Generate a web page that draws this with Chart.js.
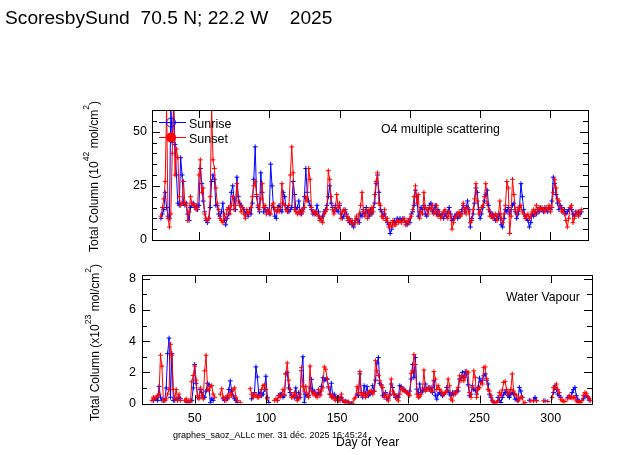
<!DOCTYPE html>
<html>
<head>
<meta charset="utf-8">
<title>ScoresbySund 2025</title>
<script src="https://cdn.jsdelivr.net/npm/chart.js@4.4.1/dist/chart.umd.min.js"></script>
<style>
  body { margin: 0; background: #fff; }
  #wrap { position: relative; width: 623px; height: 455px; }
  #wrap canvas { position: absolute; left: 0; top: 0; }
</style>
</head>
<body>
<div id="wrap">
  <canvas id="o4" width="623" height="455"></canvas>
  <canvas id="wv" width="623" height="455"></canvas>
</div>
<script>
// O4 multiple scattering, one value per day starting at day 23 (10^42 mol/cm2)
const o4FirstDay = 23;
const o4Sunrise = [
  10, 12, 14, 22, 15, 11, 10, 62, 45, 62,
  44, 30, 17, 16, 38, 30, 17, 16, 17, 12,
  9, 15, 16, 17, 15, 16, 14, 16, 33, 26,
  18, 13, 9, 8, 10, 15, 27, 30, 28, 16,
  16, 12, 11, 13, 17, 9, 7, 10, 12, 14,
  22, 25, 19, 14, 29, 20, 17, 16, 15, 14,
  12, 13, 11, 14, 12, 17, 28, 43, 20, 15,
  13, 31, 22, 13, 15, 13, 14, 12, 35, 25,
  15, 11, 10, 15, 16, 14, 13, 22, 20, 14,
  15, 13, 14, 15, 27, 21, 14, 15, 18, 13,
  12, 14, 20, 33, 22, 18, 16, 14, 12, 13,
  12, 16, 13, 10, 9, 11, 13, 14, 16, 20,
  25, 17, 15, 13, 16, 14, 13, 16, 12, 10,
  11, 14, 12, 10, 8, 9, 7, 6, 8, 10,
  9, 8, 12, 11, 14, 12, 15, 13, 11, 14,
  12, 15, 17, 26, 30, 22, 14, 13, 11, 12,
  10, 8, 7, 3, 5, 8, 9, 8, 10, 9,
  10, 9, 10, 9, 8, 7, 9, 8, 12, 13,
  16, 23, 20, 11, 13, 15, 14, 16, 12, 11,
  14, 16, 17, 13, 14, 16, 12, 14, 12, 11,
  12, 10, 12, 11, 13, 15, 12, 9, 10, 11,
  12, 10, 11, 12, 14, 16, 13, 15, 18, 14,
  6, 10, 12, 17, 24, 22, 14, 10, 12, 15,
  18, 21, 23, 16, 13, 11, 12, 10, 9, 11,
  10, 12, 7, 6, 10, 14, 13, 15, 12, 14,
  16, 17, 13, 10, 12, 15, 26, 20, 14, 11,
  10, 9, 6, 8, 12, 11, 13, 12, 14, 13,
  15, 14, 13, 15, 14, 13, 15, 14, 18, 29,
  26, 21, 17, 14, 16, 15, 13, 14, 12, 13,
  14, 15, 14, 12, 11, 13, 12, 13, 12, 13
];
const o4Sunset = [
  11, 15, 19, 27, 62, 10, 6, 12, 40, 62,
  30, 42, 38, 20, 16, 17, 27, 17, 16, 9,
  13, 20, 17, 16, 16, 14, 15, 30, 37, 22,
  24, 12, 10, 9, 10, 20, 62, 37, 33, 24,
  17, 14, 10, 9, 8, 12, 10, 14, 15, 12,
  16, 20, 14, 16, 26, 18, 16, 13, 15, 12,
  10, 14, 12, 13, 15, 20, 25, 27, 21, 16,
  14, 19, 26, 15, 16, 12, 14, 13, 12, 16,
  17, 14, 13, 15, 13, 15, 26, 17, 16, 14,
  13, 16, 30, 43, 31, 14, 13, 12, 13, 12,
  14, 13, 15, 20, 18, 33, 28, 15, 13, 12,
  13, 12, 11, 9, 10, 8, 12, 13, 14, 32,
  28, 20, 14, 12, 14, 21, 15, 17, 10, 13,
  14, 13, 11, 9, 10, 8, 9, 7, 9, 11,
  8, 12, 16, 22, 13, 11, 14, 10, 14, 12,
  15, 13, 21, 27, 31, 17, 16, 11, 10, 14,
  9, 10, 6, 8, 6, 9, 7, 7, 9, 8,
  9, 8, 9, 10, 7, 9, 8, 10, 11, 14,
  20, 25, 17, 21, 10, 13, 12, 22, 15, 14,
  12, 15, 14, 16, 12, 13, 16, 11, 13, 10,
  11, 13, 14, 12, 10, 13, 11, 5, 8, 10,
  11, 12, 13, 11, 12, 17, 14, 12, 15, 13,
  8, 9, 14, 19, 26, 18, 12, 13, 15, 16,
  20, 26, 17, 14, 11, 12, 10, 11, 12, 9,
  12, 18, 10, 8, 12, 16, 27, 24, 3, 11,
  28, 21, 14, 12, 15, 14, 16, 13, 12, 10,
  11, 12, 10, 11, 13, 14, 12, 16, 13, 15,
  14, 15, 14, 13, 15, 14, 16, 13, 15, 22,
  28, 24, 19, 18, 15, 13, 14, 12, 9, 6,
  10, 15, 16, 8, 10, 12, 13, 11, 13, 14
];

// Water vapour, one value per day starting at day 20 (null = no measurement)
const wvFirstDay = 20;
const wvSunrise = [
  null, 0.2, 0.3, 0.3, 0.2, 1.1, 0.4, 0.2, 0.2, 0.2,
  1.0, 3.2, 4.2, 0.4, 3.2, 0.2, 0.2, 0.3, 0.2, 0.4,
  0.3, null, null, null, 0.1, null, 0.1, null, 0.2, 1.0,
  2.5, 1.3, 0.4, 0.4, 0.9, 0.7, 0.4, 0.4, 0.8, 1.3,
  1.2, 0.05, 0.3, 0.2, null, null, null, null, null, null,
  0.3, 0.2, 0.4, 0.3, 0.9, 1.45, 0.8, 0.5, 0.3, 0.2,
  0.07, null, null, null, null, null, null, null, null, null,
  0.3, 0.5, 0.7, 2.35, 1.7, 0.6, 0.7, 0.5, 0.6, 0.9,
  1.75, 0.4, 0.07, null, null, null, null, null, 0.2, 0.5,
  0.6, 0.6, 0.4, 0.5, 1.9, 2.0, 1.0, 0.7, 0.5, 0.5,
  0.4, 1.0, 0.3, 0.7, 0.4, 2.1, 3.0, 0.05, 0.6, 0.5,
  0.5, 1.0, 1.55, 0.8, 0.8, 0.5, 0.6, 0.7, 0.6, 1.1,
  1.65, 1.5, 1.55, 1.55, 1.0, 0.6, 1.3, 0.4, 0.6, 0.4,
  0.3, 0.4, 0.2, 0.4, 0.2, 0.1, 0.15, 0.1, 0.05, null,
  0, null, null, null, 0.6, 0.5, 1.9, 0.7, 0.4, 1.14,
  0.6, 1.08, 0.5, 0.6, 0.7, 1.14, 0.8, 1.5, 2.6, 2.95,
  1.3, 1.2, 0.5, 0.6, 0.7, 0.28, 0.3, 0.6, 1.25, 1.03,
  0.6, 0.39, 0.5, 0.4, 1.14, 1.08, 0.9, 0.92, 0.8, 0.7,
  0.6, 0.8, 1.57, 2.5, 1.68, 2.95, 0.92, 0.6, 1.25, 0.7,
  0.8, 0.9, 1.25, 0.9, 1.03, 0.9, 1.03, 0.7, 1.46, 0.5,
  0.28, 0.6, 0.7, 0.6, 0.5, 0.6, 0.7, 1.03, 0.8, 0.6,
  0.5, 0.7, 0.6, 0.7, 0.8, 0.8, 1.57, 1.6, 2.0, 1.68,
  2.05, 1.9, 1.2, 0.5, 0.6, 1.14, 0.9, 0.86, 0.6, 1.03,
  1.63, 1.4, 1.5, 1.78, 1.9, 1.5, 1.25, 0.6, 0.4, 0.17,
  0.1, null, null, 0.39, 0.2, 0.06, 0.39, 0.6, 0.7, 0.8,
  0.5, 0.39, 0.6, 0.7, 0.6, 0.28, 0.3, 0.17, 1.03, 0.8,
  0.4, null, null, null, null, 0.21, null, null, 0.21, 0.39,
  0.2, null, null, null, null, null, 0.17, null, null, null,
  null, null, 0.7, 1.14, 0.9, 0.6, 0.5, 0.4, null, null,
  null, null, 0.39, 0.45, 0.39, 0.7, 0.9, 1.03, 0.5, 0.28,
  0.1, null, null, 0.3, 0.5, 0.5, 0.4, 0.21, null
];
const wvSunset = [
  0.2, 0.4, 0.3, 0.4, 0.5, 0.6, 3.1, 2.4, 0.2, 0.2,
  0.3, 0.6, 0.9, 3.8, 3.1, 0.9, 0.3, 0.9, 0.2, 0.6,
  0.2, null, null, 0.2, 0.3, 0.1, 0.2, 0.1, 1.4, 1.8,
  2.4, 1.5, 0.5, 0.3, 1.0, 0.5, 0.3, 2.1, 3.1, 0.9,
  0.85, 1.1, 1.15, 0.6, 0.4, null, null, null, 0.6, 0.95,
  0.4, 0.3, 0.2, 0.5, 0.4, 0.7, 0.5, 0.9, 1.0, 0.4,
  0.2, null, 0.07, null, null, null, null, null, null, 0.95,
  0.6, 0.4, 0.6, 0.5, 0.4, 0.4, 0.5, 0.9, 1.14, 1.2,
  0.9, 0.3, null, null, null, null, 0.2, 0.3, 0.2, 0.5,
  0.4, 0.5, 0.9, 0.6, 1.9, 2.6, 1.5, 0.9, 0.4, 0.4,
  0.7, 0.5, 0.2, 0.3, 0.6, 2.3, 1.1, 0.8, 1.1, 0.6,
  0.4, 2.4, 0.8, 0.6, 0.7, 0.5, 0.4, 0.9, 0.5, 0.8,
  1.0, 2.35, 2.2, 1.6, 1.1, 0.6, 0.4, 0.5, 0.3, 0.2,
  0.4, 0.2, 0.3, 0.6, 0.2, 0.1, 0.1, 0.05, 0.1, 0,
  null, 0, 0.3, 0.4, 1.08, 0.7, 2.05, 0.6, 0.5, 0.7,
  0.4, 0.5, 0.7, 0.8, 0.8, 0.6, 0.77, 2.75, 2.1, 1.8,
  1.46, 1.14, 1.03, 0.39, 0.6, 0.4, 0.17, 0.5, 1.57, 0.8,
  0.6, 0.5, 0.3, 0.17, 0.6, 1.03, 0.86, 0.8, 0.8, 0.7,
  0.6, 0.5, 1.94, 2.1, 3.15, 2.5, 0.6, 0.39, 0.43, 0.6,
  1.0, 2.15, 0.8, 0.92, 0.9, 1.03, 0.8, 0.8, 2.05, 1.57,
  0.9, 1.14, 0.92, 0.8, 0.6, 0.6, 0.7, 0.8, 1.57, 1.14,
  0.28, 0.17, 0.7, 0.6, 0.8, 1.03, 1.78, 1.46, 1.78, 1.46,
  1.68, 2.05, 2.0, 0.7, 0.39, 1.03, 2.1, 1.68, 0.39, 0.92,
  1.0, 1.35, 1.25, 2.3, 2.35, 1.6, 0.9, 0.8, 0.5, 0.2,
  0.05, 0, 0.06, 0.17, 0.7, 0.5, 0.86, 1.35, 1.42, 0.9,
  0.6, 0.7, 0.9, 1.9, 0.8, 0.6, 0.5, 0.17, 0.3, 0.4,
  0.39, 0, 0.06, null, null, null, 0.17, null, 0.17, null,
  0.17, null, null, null, null, 0.17, null, null, 0.13, null,
  null, 0.39, 1.03, 1.0, 1.25, 0.9, 0.7, 0.28, 0.17, 0.15,
  0.13, null, 0.3, 0.5, 0.39, 0.35, 0.4, 0.39, 0.17, 0.1,
  0.06, 0.06, 0.2, 0.5, 0.7, 0.65, 0.43, 0.34, 0.2
];

// Axis ticks
const dayTicks = [50, 100, 150, 200, 250, 300];
const o4Ticks = [0, 25, 50];
const wvTicks = [0, 2, 4, 6, 8];

const FONT = '"Liberation Sans", Arial, sans-serif';
const BLUE = '#0000ff';
const RED = '#ff0000';

function toPoints(first, values) {
  return values.map((v, i) => ({ x: first + i, y: v }));
}

function series(label, color, points, order) {
  return {
    label: label,
    data: points,
    borderColor: color,
    backgroundColor: color,
    borderWidth: 1,
    pointStyle: 'cross',
    pointRadius: 2.4,
    pointBorderWidth: 1,
    pointBorderColor: color,
    spanGaps: false,
    tension: 0,
    order: order,
  };
}

function line(ctx, x1, y1, x2, y2) {
  ctx.beginPath();
  ctx.moveTo(x1, y1);
  ctx.lineTo(x2, y2);
  ctx.stroke();
}

// Box around the plot with inward ticks on all four sides
const framePlugin = {
  id: 'frame',
  afterDatasetsDraw(chart, args, opts) {
    const { ctx, chartArea: a, scales } = chart;
    const x = scales.x, y = scales.y;
    ctx.save();
    ctx.strokeStyle = '#000';
    ctx.lineWidth = 1;
    ctx.strokeRect(Math.round(a.left) + 0.5, Math.round(a.top) + 0.5,
      Math.round(a.right - a.left), Math.round(a.bottom - a.top));
    opts.xTicks.forEach((v) => {
      const px = Math.round(x.getPixelForValue(v)) + 0.5;
      line(ctx, px, a.top, px, a.top + 8);
      line(ctx, px, a.bottom, px, a.bottom - 8);
    });
    for (let v = y.min; v <= y.max + 1e-9; v += opts.minorStep) {
      const major = opts.yTicks.some((t) => Math.abs(t - v) < 1e-6);
      const len = major ? 8 : 5;
      const py = Math.round(y.getPixelForValue(v)) + 0.5;
      line(ctx, a.left, py, a.left + len, py);
      line(ctx, a.right, py, a.right - len, py);
    }
    ctx.restore();
  },
};

// Rotated axis title with superscripts, reading upwards
function drawRotated(ctx, parts, x, y, size) {
  ctx.save();
  ctx.translate(x, y);
  ctx.rotate(-Math.PI / 2);
  ctx.fillStyle = '#000';
  ctx.textAlign = 'left';
  ctx.textBaseline = 'alphabetic';
  let cx = 0;
  parts.forEach((p) => {
    const fs = p.sup ? size * 0.72 : size;
    ctx.font = fs + 'px ' + FONT;
    ctx.fillText(p.t, cx, p.sup ? -size * 0.7 : 0);
    cx += ctx.measureText(p.t).width;
  });
  ctx.restore();
}

function text(ctx, s, x, y, size) {
  ctx.font = size + 'px ' + FONT;
  ctx.fillStyle = '#000';
  ctx.textAlign = 'left';
  ctx.textBaseline = 'alphabetic';
  ctx.fillText(s, x, y);
}

const labelsPlugin = {
  id: 'labels',
  afterDraw(chart, args, opts) {
    const ctx = chart.ctx;
    ctx.save();
    if (opts.panel === 'o4') {
      text(ctx, 'ScoresbySund  70.5 N; 22.2 W    2025', 5, 24, 19.2);
      drawRotated(ctx, [
        { t: 'Total Column (10' }, { t: '42', sup: true },
        { t: ' mol/cm' }, { t: '2', sup: true }, { t: ')' },
      ], 97.5, 252, 12);
      text(ctx, 'O4 multiple scattering', 381, 132.5, 12.3);
      // legend
      ctx.lineWidth = 1;
      ctx.strokeStyle = BLUE;
      line(ctx, 159, 122.5, 186, 122.5);
      ctx.beginPath();
      ctx.arc(171, 122.5, 4.5, 0, Math.PI * 2);
      ctx.stroke();
      ctx.strokeStyle = RED;
      ctx.fillStyle = RED;
      line(ctx, 159, 137.5, 186, 137.5);
      ctx.beginPath();
      ctx.arc(171, 137.5, 5, 0, Math.PI * 2);
      ctx.fill();
      text(ctx, 'Sunrise', 189, 127.5, 12.5);
      text(ctx, 'Sunset', 189, 142.5, 12.5);
    } else {
      drawRotated(ctx, [
        { t: 'Total Column (x10' }, { t: '23', sup: true },
        { t: ' mol/cm' }, { t: '2', sup: true }, { t: ')' },
      ], 99, 421, 12);
      text(ctx, 'Water Vapour', 506, 300.5, 12.2);
      text(ctx, 'graphes_saoz_ALLc mer. 31 déc. 2025 16:45:24', 173, 437.5, 9);
      text(ctx, 'Day of Year', 336, 446, 12.2);
    }
    ctx.restore();
  },
};

const tickFont = { family: FONT, size: 12.5 };

function fixedTicks(values) {
  return (scale) => { scale.ticks = values.map((v) => ({ value: v })); };
}

// Upper panel: O4
new Chart(document.getElementById('o4'), {
  type: 'line',
  data: {
    datasets: [
      series('Sunrise', BLUE, toPoints(o4FirstDay, o4Sunrise), 1),
      series('Sunset', RED, toPoints(o4FirstDay, o4Sunset), 0),
    ],
  },
  options: {
    responsive: false,
    animation: false,
    devicePixelRatio: 1,
    events: [],
    layout: { padding: { left: 112, top: 110, right: 35, bottom: 215 } },
    plugins: {
      legend: { display: false },
      tooltip: { enabled: false },
      frame: { xTicks: dayTicks, yTicks: o4Ticks, minorStep: 5 },
      labels: { panel: 'o4' },
    },
    scales: {
      x: { type: 'linear', min: 16.6, max: 326.7, display: false },
      y: {
        type: 'linear', min: 0, max: 60,
        grid: { display: false, drawTicks: false },
        border: { display: false },
        ticks: { color: '#000', font: tickFont, padding: 5 },
        afterBuildTicks: fixedTicks(o4Ticks),
        afterFit(scale) { scale.width = 40; },
      },
    },
  },
  plugins: [framePlugin, labelsPlugin],
});

// Lower panel: water vapour
new Chart(document.getElementById('wv'), {
  type: 'line',
  data: {
    datasets: [
      series('Sunrise', BLUE, toPoints(wvFirstDay, wvSunrise), 1),
      series('Sunset', RED, toPoints(wvFirstDay, wvSunset), 0),
    ],
  },
  options: {
    responsive: false,
    animation: false,
    devicePixelRatio: 1,
    events: [],
    layout: { padding: { left: 102, top: 275, right: 31, bottom: 31.5 } },
    plugins: {
      legend: { display: false },
      tooltip: { enabled: false },
      frame: { xTicks: dayTicks, yTicks: wvTicks, minorStep: 1 },
      labels: { panel: 'wv' },
    },
    scales: {
      x: {
        type: 'linear', min: 13, max: 329,
        grid: { display: false, drawTicks: false },
        border: { display: false },
        ticks: { color: '#000', font: tickFont, padding: 8, maxRotation: 0 },
        afterBuildTicks: fixedTicks(dayTicks),
        afterFit(scale) { scale.height = 20; },
      },
      y: {
        type: 'linear', min: 0, max: 8.25,
        grid: { display: false, drawTicks: false },
        border: { display: false },
        ticks: { color: '#000', font: tickFont, padding: 6 },
        afterBuildTicks: fixedTicks(wvTicks),
        afterFit(scale) { scale.width = 40; },
      },
    },
  },
  plugins: [framePlugin, labelsPlugin],
});
</script>
</body>
</html>
